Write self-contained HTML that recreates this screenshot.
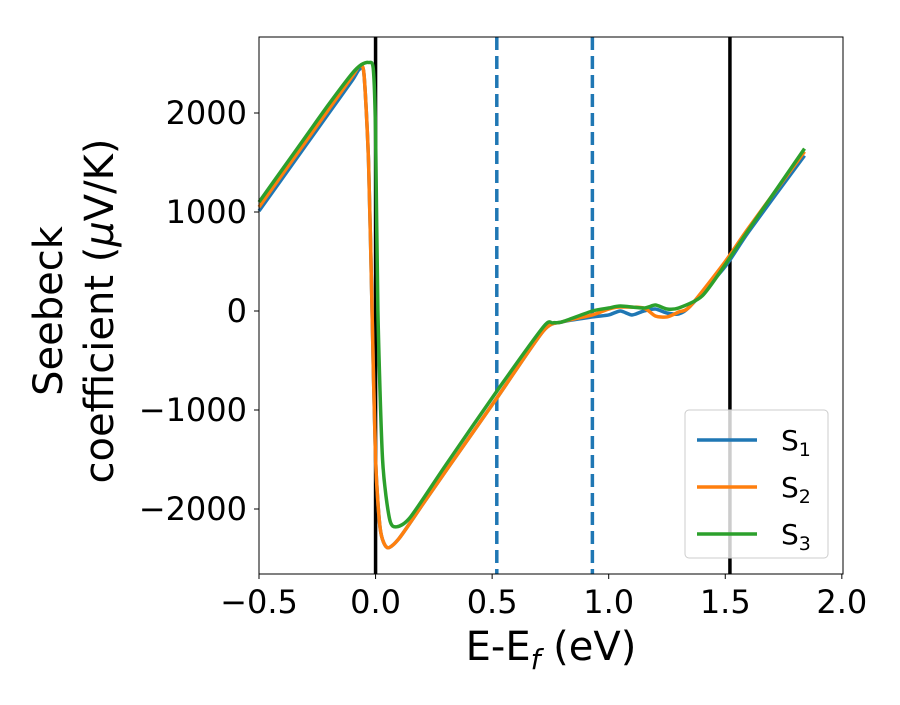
<!DOCTYPE html>
<html><head><meta charset="utf-8"><style>
body{margin:0;background:#fff;}
svg text{font-family:"DejaVu Sans","Liberation Sans",sans-serif;fill:#000;}
</style></head><body>
<svg id="chart" width="900" height="700" xmlns="http://www.w3.org/2000/svg">
<rect width="900" height="700" fill="#fff"/>
<g id="plot"></g>
<g id="axes"></g>
</svg>
<script>
const xTicks=[-0.5,0.0,0.5,1.0,1.5,2.0];
const xTickLabels=["\u22120.5","0.0","0.5","1.0","1.5","2.0"];
const yTicks=[-2000,-1000,0,1000,2000];
const yTickLabels=["\u22122000","\u22121000","0","1000","2000"];
const solidLines=[0.0,1.52];
const dashedLines=[0.52,0.93];
const s1X=[-0.5,-0.4,-0.3,-0.2,-0.1,-0.07,-0.05,-0.03,-0.015,0.0,0.02,0.05,0.1,0.2,0.3,0.52,0.72,0.8,0.93,1.0,1.05,1.1,1.15,1.2,1.25,1.3,1.35,1.5,1.6,1.84];
const s1Y=[1010,1340,1670,2000,2330,2440,2400,1500,0,-1500,-2200,-2390,-2300,-1960,-1620,-880,-200,-110,-60,-40,0,-40,0,20,-20,-30,50,450,800,1570];
const s2X=[-0.5,-0.4,-0.3,-0.2,-0.1,-0.07,-0.05,-0.03,-0.015,0.0,0.02,0.05,0.1,0.2,0.3,0.52,0.72,0.8,0.93,1.0,1.05,1.15,1.2,1.25,1.3,1.35,1.5,1.6,1.84];
const s2Y=[1050,1380,1710,2040,2370,2470,2400,1500,0,-1500,-2200,-2390,-2300,-1960,-1620,-880,-200,-110,-40,20,40,30,-50,-60,-10,50,500,840,1610];
const s3X=[-0.5,-0.4,-0.3,-0.2,-0.1,-0.06,-0.03,-0.01,0.0,0.01,0.03,0.06,0.09,0.15,0.3,0.52,0.72,0.76,0.8,0.93,1.0,1.05,1.15,1.2,1.25,1.3,1.4,1.5,1.6,1.84];
const s3Y=[1100,1430,1760,2090,2400,2490,2510,2450,1800,0,-1500,-2100,-2180,-2080,-1560,-810,-160,-120,-110,0,30,50,30,60,20,30,150,470,820,1640];
const seriesNames=["S","S","S"];
const seriesSubs=["1","2","3"];
const colors=["#1f77b4","#ff7f0e","#2ca02c"];

const L=259,R=843,T=37,B=574;
const xMin=-0.5,xMax=2.005;
const X=v=>L+(v-xMin)/(xMax-xMin)*(R-L);
const Y=v=>311-v*0.099;
const NS="http://www.w3.org/2000/svg";
const plot=document.getElementById('plot'),axes=document.getElementById('axes');
function mk(t,a,p){const e=document.createElementNS(NS,t);for(const k in a)e.setAttribute(k,a[k]);p.appendChild(e);return e;}

solidLines.forEach(v=>{const e=mk('line',{x1:X(v),x2:X(v),y1:T,y2:B,stroke:'#000','stroke-width':3.5},plot);

});
dashedLines.forEach(v=>{const e=mk('line',{x1:X(v),x2:X(v),y1:T,y2:B,stroke:'#1f77b4','stroke-width':3.5,'stroke-dasharray':'13,6'},plot);

});

function path(xs,ys){
  const p=xs.map((x,i)=>[X(x),Y(ys[i])]);
  let d=`M${p[0][0]},${p[0][1]}`;
  for(let i=0;i<p.length-1;i++){
    const p0=p[Math.max(0,i-1)],p1=p[i],p2=p[i+1],p3=p[Math.min(p.length-1,i+2)];
    const c1=[p1[0]+(p2[0]-p0[0])/8,p1[1]+(p2[1]-p0[1])/8];
    const c2=[p2[0]-(p3[0]-p1[0])/8,p2[1]-(p3[1]-p1[1])/8];
    d+=`C${c1[0]},${c1[1]} ${c2[0]},${c2[1]} ${p2[0]},${p2[1]}`;
  }
  return d;
}
[[s1X,s1Y],[s2X,s2Y],[s3X,s3Y]].forEach((s,i)=>{
  const e=mk('path',{d:path(s[0],s[1]),fill:'none',stroke:colors[i],'stroke-width':3.5,'stroke-linejoin':'round'},plot);
  
  
});

const fr=mk('rect',{x:L,y:T,width:R-L,height:B-T,fill:'none',stroke:'#000','stroke-width':1},axes);


xTicks.forEach((v,i)=>{
  mk('line',{x1:X(v),x2:X(v),y1:B,y2:B+5,stroke:'#000','stroke-width':1},axes);
  const t=mk('text',{x:X(v),y:B+39,'text-anchor':'middle','font-size':32},axes);t.textContent=xTickLabels[i];
  
  
});
yTicks.forEach((v,i)=>{
  mk('line',{x1:L-5,x2:L,y1:Y(v),y2:Y(v),stroke:'#000','stroke-width':1},axes);
  const t=mk('text',{x:L-12,y:Y(v)+11,'text-anchor':'end','font-size':32},axes);t.textContent=yTickLabels[i];
  
  
});
const xt=mk('text',{x:551,y:660,'text-anchor':'middle','font-size':40},axes);
xt.innerHTML='E-E<tspan font-size="28" dy="9" font-style="italic">f</tspan><tspan dy="-9"> (eV)</tspan>';


const yt=mk('text',{transform:'translate(62,311) rotate(-90)','text-anchor':'middle','font-size':40},axes);
yt.textContent='Seebeck';


const yt2=mk('text',{transform:'translate(113,311) rotate(-90)','text-anchor':'middle','font-size':40},axes);
yt2.innerHTML='coefficient  (<tspan font-style="italic">\u03bc</tspan>V/K)';



const lg=mk('g',{},axes);


mk('rect',{x:685,y:410,width:143,height:148,rx:4,fill:'#fff','fill-opacity':0.8,stroke:'#ccc','stroke-width':1},lg);
seriesNames.forEach((n,i)=>{
  const y=440+i*47;
  const l=mk('line',{x1:697,x2:757,y1:y,y2:y,stroke:colors[i],'stroke-width':3.5},lg);
  
  
  const t=mk('text',{x:781,y:y+10,'font-size':28},lg);
  t.innerHTML=n+'<tspan font-size="19" dy="6">'+seriesSubs[i]+'</tspan>';
  
  
});
</script>
</body></html>
